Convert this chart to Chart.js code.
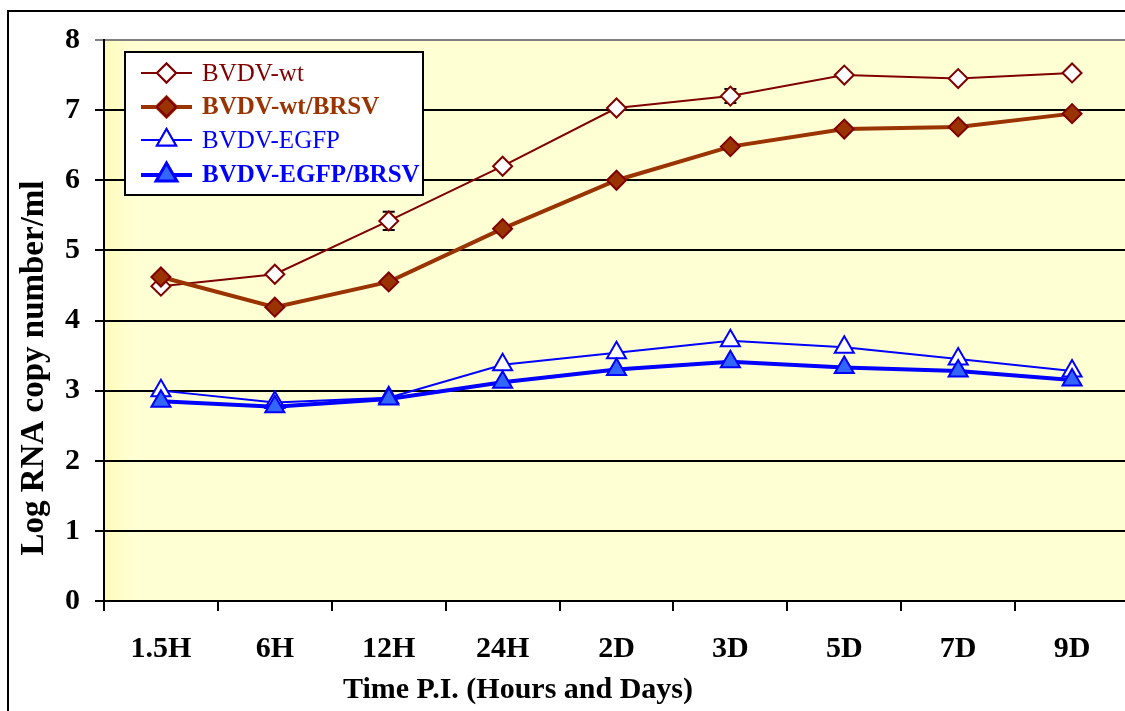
<!DOCTYPE html>
<html>
<head>
<meta charset="utf-8">
<script src="https://cdn.jsdelivr.net/npm/chart.js@4.4.1/dist/chart.umd.min.js"></script>
<style>
  body { margin: 0; overflow: hidden; background: #fff; }
</style>
</head>
<body>
<canvas id="myChart" width="1150" height="711"></canvas>
<script>
const labels = ['1.5H', '6H', '12H', '24H', '2D', '3D', '5D', '7D', '9D'];
const wt = [4.49, 4.66, 5.42, 6.2, 7.03, 7.2, 7.5, 7.45, 7.53];
const wtErr = [0, 0, 0.13, 0, 0.03, 0.1, 0.02, 0.02, 0.04];
const wtBrsv = [4.62, 4.19, 4.55, 5.31, 6.0, 6.48, 6.73, 6.76, 6.95];
const egfp = [3.0, 2.83, 2.9, 3.37, 3.54, 3.71, 3.62, 3.45, 3.28];
const egfpBrsv = [2.85, 2.77, 2.88, 3.12, 3.3, 3.41, 3.33, 3.28, 3.15];
const yTicks = [0, 1, 2, 3, 4, 5, 6, 7, 8];

const serif = "'Liberation Serif', 'Times New Roman', serif";
const ctx = document.getElementById('myChart').getContext('2d');

const legendItems = [
    { text: 'BVDV-wt', color: '#800000', bold: false, ds: 0 },
    { text: 'BVDV-wt/BRSV', color: '#993300', bold: true, ds: 1 },
    { text: 'BVDV-EGFP', color: '#0000ff', bold: false, ds: 2 },
    { text: 'BVDV-EGFP/BRSV', color: '#0000ff', bold: true, ds: 3 }
];

// background, frame, error bars, custom legend and axis titles
const extras = {
    id: 'extras',
    beforeDraw(chart) {
        const c = chart.ctx;
        const a = chart.chartArea;
        c.save();
        c.strokeStyle = '#000';
        c.lineWidth = 2;
        c.strokeRect(8, 11, chart.width + 20, chart.height + 20);
        let g = c.createLinearGradient(a.left, 0, a.left + 30, 0);
        g.addColorStop(0, '#fffbbc');
        g.addColorStop(1, '#ffffd4');
        c.fillStyle = g;
        c.fillRect(a.left, a.top, a.right - a.left, a.bottom - a.top);
        c.restore();
    },
    beforeDatasetsDraw(chart) {
        const c = chart.ctx;
        const meta = chart.getDatasetMeta(0);
        const y = chart.scales.y;
        c.save();
        c.strokeStyle = '#000';
        c.lineWidth = 2;
        wtErr.forEach((e, i) => {
            if (!e) return;
            const x = meta.data[i].x;
            const y1 = y.getPixelForValue(wt[i] + e);
            const y2 = y.getPixelForValue(wt[i] - e);
            c.beginPath();
            c.moveTo(x, y1); c.lineTo(x, y2);
            c.moveTo(x - 6, y1); c.lineTo(x + 6, y1);
            c.moveTo(x - 6, y2); c.lineTo(x + 6, y2);
            c.stroke();
        });
        c.restore();
    },
    afterDraw(chart) {
        const c = chart.ctx;
        c.save();
        // legend
        c.fillStyle = '#fff';
        c.fillRect(125, 52, 298, 143);
        c.strokeStyle = '#000';
        c.lineWidth = 2;
        c.strokeRect(125, 52, 298, 143);
        const rows = [73, 107, 140, 175];
        legendItems.forEach((it, i) => {
            const ds = chart.data.datasets[it.ds];
            const ry = rows[i];
            c.strokeStyle = ds.borderColor;
            c.lineWidth = ds.borderWidth;
            c.beginPath();
            c.moveTo(141, ry); c.lineTo(192, ry);
            c.stroke();
            Chart.helpers.drawPoint(c, {
                pointStyle: ds.pointStyle,
                radius: ds.pointRadius,
                borderWidth: ds.pointBorderWidth,
                rotation: 0
            }, 166.5, ry);
            c.fillStyle = ds.pointBackgroundColor;
            c.strokeStyle = ds.pointBorderColor;
            c.lineWidth = ds.pointBorderWidth;
            c.fill();
            c.stroke();
            c.fillStyle = it.color;
            c.font = (it.bold ? 'bold ' : '') + '25px ' + serif;
            c.textAlign = 'left';
            c.textBaseline = 'middle';
            c.fillText(it.text, 202, ry + 1);
        });
        // axis titles
        c.fillStyle = '#000';
        c.font = 'bold 30px ' + serif;
        c.textAlign = 'center';
        c.textBaseline = 'middle';
        c.fillText('Time P.I. (Hours and Days)', 518, 690);
        c.font = 'bold 33px ' + serif;
        c.translate(34, 368);
        c.rotate(-Math.PI / 2);
        c.fillText('Log RNA copy number/ml', 0, 0);
        c.restore();
    }
};

const myChart = new Chart(ctx, {
    type: 'line',
    data: {
        labels: labels,
        datasets: [{
            label: 'BVDV-wt',
            data: wt,
            borderColor: '#800000',
            borderWidth: 2,
            pointStyle: 'rectRot',
            pointRadius: 9.5,
            pointBackgroundColor: '#ffffff',
            pointBorderColor: '#800000',
            pointBorderWidth: 2,
            order: 1
        }, {
            label: 'BVDV-wt/BRSV',
            data: wtBrsv,
            borderColor: '#993300',
            borderWidth: 4,
            pointStyle: 'rectRot',
            pointRadius: 9.5,
            pointBackgroundColor: '#993300',
            pointBorderColor: '#800000',
            pointBorderWidth: 2,
            order: 0
        }, {
            label: 'BVDV-EGFP',
            data: egfp,
            borderColor: '#0000ff',
            borderWidth: 2,
            pointStyle: 'triangle',
            pointRadius: 11,
            pointBackgroundColor: '#ffffff',
            pointBorderColor: '#0000ff',
            pointBorderWidth: 2,
            order: 1
        }, {
            label: 'BVDV-EGFP/BRSV',
            data: egfpBrsv,
            borderColor: '#0000ff',
            borderWidth: 4,
            pointStyle: 'triangle',
            pointRadius: 11,
            pointBackgroundColor: '#3366ff',
            pointBorderColor: '#0000ff',
            pointBorderWidth: 2,
            order: 0
        }]
    },
    options: {
        responsive: false,
        devicePixelRatio: 1,
        animation: false,
        events: [],
        layout: { autoPadding: false, padding: { left: 0, top: 40, right: 21, bottom: 0 } },
        elements: { line: { tension: 0 } },
        plugins: { legend: { display: false }, tooltip: { enabled: false } },
        scales: {
            x: {
                offset: true,
                grid: { offset: true, drawOnChartArea: false, tickLength: 10, color: '#000', lineWidth: 2 },
                border: { color: '#000', width: 2 },
                ticks: { color: '#000', font: { family: serif, size: 30, weight: 'bold' }, padding: 20, maxRotation: 0 },
                afterFit: s => { s.height = 110; }
            },
            y: {
                min: 0,
                max: 8,
                afterBuildTicks: s => { s.ticks = yTicks.map(v => ({ value: v })); },
                grid: {
                    color: c => (c.tick && c.tick.value === 8) ? '#808080' : '#000',
                    lineWidth: 2,
                    tickLength: 9
                },
                border: { color: '#000', width: 2 },
                ticks: { color: '#000', font: { family: serif, size: 30, weight: 'bold' }, padding: 15 },
                afterFit: s => { s.width = 104; }
            }
        }
    },
    plugins: [extras]
});
</script>
</body>
</html>
